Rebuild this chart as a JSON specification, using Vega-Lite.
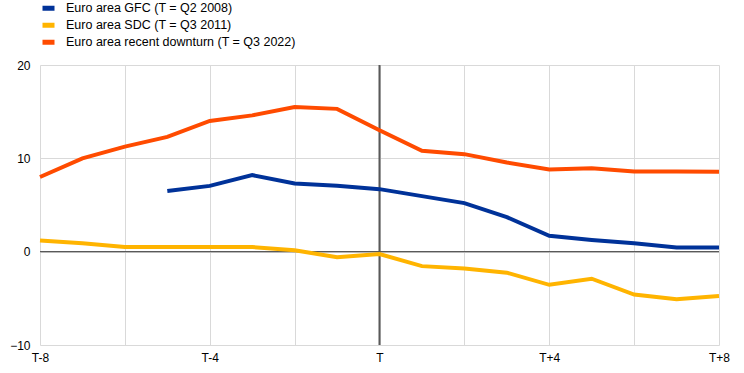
{
  "$schema": "https://vega.github.io/schema/vega-lite/v6.json",
  "width": 679,
  "height": 280,
  "autosize": {"type": "none"},
  "padding": {"left": 40, "top": 65, "right": 25, "bottom": 28},
  "background": "white",
  "config": {
    "font": "Liberation Sans",
    "view": {"stroke": null},
    "axis": {"labelFont": "Liberation Sans", "labelFontSize": 12, "labelColor": "#000000", "gridColor": "#d9d9d9", "gridWidth": 1, "domain": false, "ticks": false, "title": null}
  },
  "layer": [
    {
      "data": {"values": [{"v": 0}]},
      "mark": {"type": "rule", "color": "#595959", "strokeWidth": 1.2},
      "encoding": {"y": {"field": "v", "type": "quantitative", "scale": {"domain": [-10, 20]}}}
    },
    {
      "data": {"values": [{"v": 0}]},
      "mark": {"type": "rule", "color": "#595959", "strokeWidth": 2},
      "encoding": {"x": {"field": "v", "type": "quantitative", "scale": {"domain": [-8, 8]}}}
    },
    {
      "data": {
        "values": [
          {"t": -5, "series": "Euro area GFC (T = Q2 2008)", "value": 6.5},
          {"t": -4, "series": "Euro area GFC (T = Q2 2008)", "value": 7.05},
          {"t": -3, "series": "Euro area GFC (T = Q2 2008)", "value": 8.2},
          {"t": -2, "series": "Euro area GFC (T = Q2 2008)", "value": 7.3},
          {"t": -1, "series": "Euro area GFC (T = Q2 2008)", "value": 7.05},
          {"t": 0, "series": "Euro area GFC (T = Q2 2008)", "value": 6.7},
          {"t": 1, "series": "Euro area GFC (T = Q2 2008)", "value": 5.95},
          {"t": 2, "series": "Euro area GFC (T = Q2 2008)", "value": 5.2},
          {"t": 3, "series": "Euro area GFC (T = Q2 2008)", "value": 3.7},
          {"t": 4, "series": "Euro area GFC (T = Q2 2008)", "value": 1.7},
          {"t": 5, "series": "Euro area GFC (T = Q2 2008)", "value": 1.25},
          {"t": 6, "series": "Euro area GFC (T = Q2 2008)", "value": 0.9},
          {"t": 7, "series": "Euro area GFC (T = Q2 2008)", "value": 0.45},
          {"t": 8, "series": "Euro area GFC (T = Q2 2008)", "value": 0.45},
          {"t": -8, "series": "Euro area SDC (T = Q3 2011)", "value": 1.2},
          {"t": -7, "series": "Euro area SDC (T = Q3 2011)", "value": 0.9},
          {"t": -6, "series": "Euro area SDC (T = Q3 2011)", "value": 0.5},
          {"t": -5, "series": "Euro area SDC (T = Q3 2011)", "value": 0.5},
          {"t": -4, "series": "Euro area SDC (T = Q3 2011)", "value": 0.5},
          {"t": -3, "series": "Euro area SDC (T = Q3 2011)", "value": 0.5},
          {"t": -2, "series": "Euro area SDC (T = Q3 2011)", "value": 0.15},
          {"t": -1, "series": "Euro area SDC (T = Q3 2011)", "value": -0.6},
          {"t": 0, "series": "Euro area SDC (T = Q3 2011)", "value": -0.25},
          {"t": 1, "series": "Euro area SDC (T = Q3 2011)", "value": -1.55},
          {"t": 2, "series": "Euro area SDC (T = Q3 2011)", "value": -1.8},
          {"t": 3, "series": "Euro area SDC (T = Q3 2011)", "value": -2.25},
          {"t": 4, "series": "Euro area SDC (T = Q3 2011)", "value": -3.55},
          {"t": 5, "series": "Euro area SDC (T = Q3 2011)", "value": -2.9},
          {"t": 6, "series": "Euro area SDC (T = Q3 2011)", "value": -4.6},
          {"t": 7, "series": "Euro area SDC (T = Q3 2011)", "value": -5.1},
          {"t": 8, "series": "Euro area SDC (T = Q3 2011)", "value": -4.75},
          {"t": -8, "series": "Euro area recent downturn (T = Q3 2022)", "value": 8.0},
          {"t": -7, "series": "Euro area recent downturn (T = Q3 2022)", "value": 10.0},
          {"t": -6, "series": "Euro area recent downturn (T = Q3 2022)", "value": 11.25},
          {"t": -5, "series": "Euro area recent downturn (T = Q3 2022)", "value": 12.3},
          {"t": -4, "series": "Euro area recent downturn (T = Q3 2022)", "value": 14.0},
          {"t": -3, "series": "Euro area recent downturn (T = Q3 2022)", "value": 14.6},
          {"t": -2, "series": "Euro area recent downturn (T = Q3 2022)", "value": 15.5},
          {"t": -1, "series": "Euro area recent downturn (T = Q3 2022)", "value": 15.3},
          {"t": 0, "series": "Euro area recent downturn (T = Q3 2022)", "value": 13.0},
          {"t": 1, "series": "Euro area recent downturn (T = Q3 2022)", "value": 10.8},
          {"t": 2, "series": "Euro area recent downturn (T = Q3 2022)", "value": 10.45},
          {"t": 3, "series": "Euro area recent downturn (T = Q3 2022)", "value": 9.55},
          {"t": 4, "series": "Euro area recent downturn (T = Q3 2022)", "value": 8.8},
          {"t": 5, "series": "Euro area recent downturn (T = Q3 2022)", "value": 8.95},
          {"t": 6, "series": "Euro area recent downturn (T = Q3 2022)", "value": 8.6},
          {"t": 7, "series": "Euro area recent downturn (T = Q3 2022)", "value": 8.6},
          {"t": 8, "series": "Euro area recent downturn (T = Q3 2022)", "value": 8.55}
        ]
      },
      "mark": {"type": "line", "strokeWidth": 4, "strokeJoin": "miter"},
      "encoding": {
        "x": {
          "field": "t", "type": "quantitative",
          "scale": {"domain": [-8, 8], "nice": false, "zero": false},
          "axis": {
            "values": [-8, -6, -4, -2, 0, 2, 4, 6, 8],
            "labelExpr": "datum.value == 0 ? 'T' : (datum.value % 4 != 0 ? '' : (datum.value > 0 ? 'T+' + datum.value : 'T' + datum.value))",
            "labelPadding": 7,
            "labelFlush": false
          }
        },
        "y": {
          "field": "value", "type": "quantitative",
          "scale": {"domain": [-10, 20], "nice": false},
          "axis": {"values": [-10, 0, 10, 20], "labelPadding": 10}
        },
        "color": {
          "field": "series", "type": "nominal",
          "scale": {
            "domain": ["Euro area GFC (T = Q2 2008)", "Euro area SDC (T = Q3 2011)", "Euro area recent downturn (T = Q3 2022)"],
            "range": ["#003299", "#FFB400", "#FF4B00"]
          },
          "legend": {
            "title": null,
            "orient": "none",
            "legendX": 0,
            "legendY": -64,
            "labelFont": "Liberation Sans",
            "labelFontSize": 12.5,
            "labelColor": "#000000",
            "labelLimit": 500,
            "symbolType": "stroke",
            "symbolSize": 144,
            "symbolStrokeWidth": 5,
            "clipHeight": 14.5,
            "rowPadding": 2,
            "labelOffset": 9
          }
        }
      }
    }
  ]
}
